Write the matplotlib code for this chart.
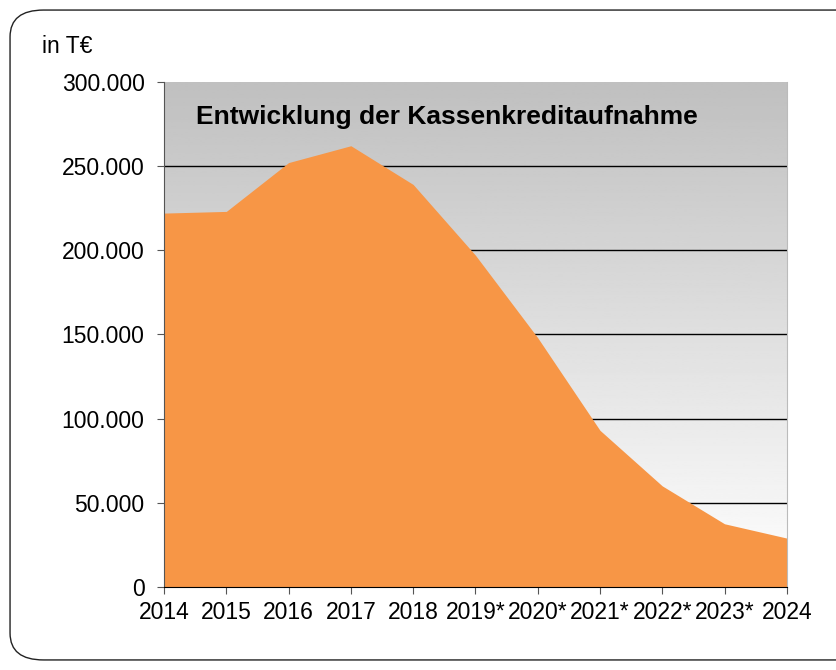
import matplotlib.pyplot as plt
import numpy as np
from matplotlib.patches import FancyBboxPatch

plt.rcParams['font.family'] = ['Liberation Sans', 'DejaVu Sans']

years = ['2014', '2015', '2016', '2017', '2018', '2019*', '2020*', '2021*', '2022*', '2023*', '2024']
kredite = [222000, 223000, 252000, 262000, 239000, 197000, 148000, 93000, 60000, 37500, 29000]

fig = plt.figure(figsize=(8.37, 6.70), dpi=100)

# rounded outer frame
frame = FancyBboxPatch((0.012, 0.015), 1.1, 0.97, boxstyle='round,pad=0,rounding_size=0.04',
                       transform=fig.transFigure, fill=False, edgecolor='#222222', linewidth=1.0)
fig.patches.append(frame)

ax = fig.add_axes([0.196, 0.124, 0.744, 0.754])
x = np.arange(len(years))

# gray (top) to white (bottom) gradient background
grad = np.linspace(0.75, 1.0, 256).reshape(-1, 1)
ax.imshow(grad, cmap='gray', vmin=0, vmax=1, aspect='auto', extent=[0, 1, 0, 1],
          origin='upper', transform=ax.transAxes, zorder=0)

for yv in range(50000, 300000, 50000):
    ax.axhline(yv, color='black', linewidth=1.0, zorder=1)

ax.fill_between(x, kredite, 0, color='#F79646', linewidth=0, zorder=2)

ax.set_xlim(0, len(years) - 1)
ax.set_ylim(0, 300000)
ax.set_xticks(x)
ax.set_xticklabels(years, fontsize=16.5)
yt = list(range(0, 300001, 50000))
ax.set_yticks(yt)
ax.set_yticklabels([f'{v:,}'.replace(',', '.') for v in yt], fontsize=16.5)
ax.tick_params(axis='y', direction='out', length=5, color='#555555', pad=9)
ax.tick_params(axis='x', direction='out', length=5, color='#555555', pad=5)

ax.spines['top'].set_visible(False)
ax.spines['right'].set_color('#bbbbbb')
ax.spines['left'].set_color('#555555')
ax.spines['bottom'].set_color('black')
ax.spines['bottom'].set_zorder(3)

ax.text(0.052, 0.93, 'Entwicklung der Kassenkreditaufnahme', transform=ax.transAxes,
        fontsize=19, fontweight='bold', va='center', ha='left', zorder=4)

fig.text(0.05, 0.93, 'in T€', fontsize=16.5, va='center', ha='left')

plt.savefig('out.png', dpi=100)
